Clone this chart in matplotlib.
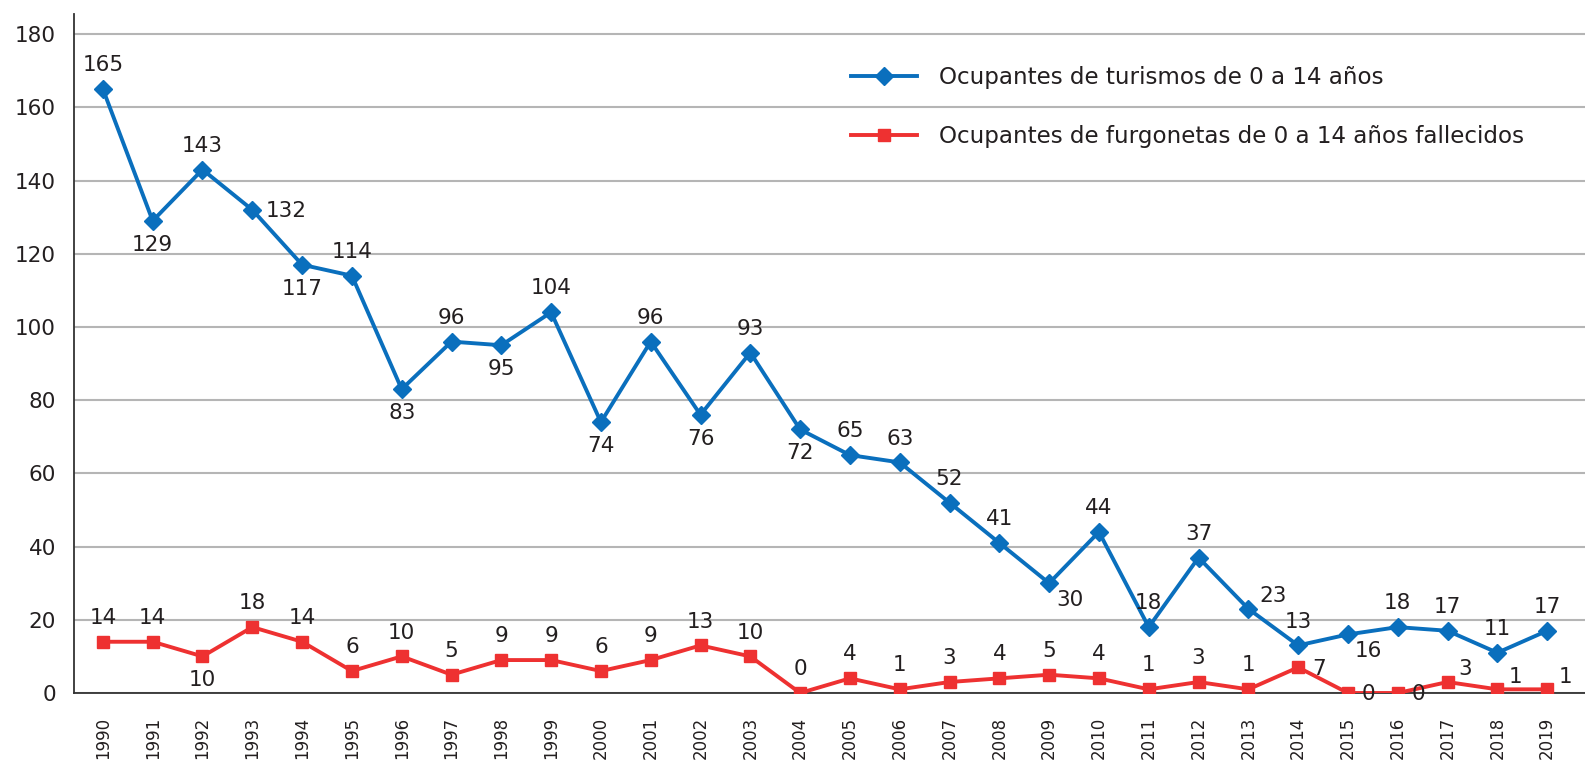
import numpy as np
import matplotlib
matplotlib.use("Agg")
import matplotlib.pyplot as plt

# data
years = list(range(1990, 2020))
turismos = [165, 129, 143, 132, 117, 114, 83, 96, 95, 104, 74, 96, 76, 93, 72,
            65, 63, 52, 41, 30, 44, 18, 37, 23, 13, 16, 18, 17, 11, 17]
furgonetas = [14, 14, 10, 18, 14, 6, 10, 5, 9, 9, 6, 9, 13, 10, 0,
              4, 1, 3, 4, 5, 4, 1, 3, 1, 7, 0, 0, 3, 1, 1]
yticks = [0, 20, 40, 60, 80, 100, 120, 140, 160, 180]
label_turismos = "Ocupantes de turismos de 0 a 14 años"
label_furgonetas = "Ocupantes de furgonetas de 0 a 14 años fallecidos"

# where each value label sits relative to its marker
pos_turismos = ["a", "b", "a", "r", "b", "a", "b", "a", "b", "a", "b", "a", "b", "a", "b",
                "a", "a", "a", "a", "dr", "a", "a", "a", "ur", "a", "dr", "a", "a", "a", "a"]
pos_furgonetas = ["a", "a", "b", "a", "a", "a", "a", "a", "a", "a", "a", "a", "a", "a", "a",
                  "a", "a", "a", "a", "a", "a", "a", "a", "a", "r", "r", "r", "ur", "ur", "ur"]

placements = {
    "a": ((0, 10), "center", "bottom"),
    "b": ((0, -10), "center", "top"),
    "r": ((10, -1), "left", "center"),
    "ur": ((8, 2), "left", "bottom"),
    "dr": ((5, -5), "left", "top"),
}

blue = "#0a6fbd"
red = "#ee3131"
txt = "#231f20"

fig = plt.figure(figsize=(15.85, 7.6), dpi=100)
ax = fig.add_axes([74 / 1585, 1 - 693 / 760, 1 - 74 / 1585, (693 - 14) / 760])

ax.plot(years, turismos, color=blue, lw=2.8, marker="D", ms=9, label=label_turismos, zorder=3)
ax.plot(years, furgonetas, color=red, lw=2.8, marker="s", ms=8, label=label_furgonetas, zorder=3)

for series, poss in [(turismos, pos_turismos), (furgonetas, pos_furgonetas)]:
    for x, v, p in zip(years, series, poss):
        off, ha, va = placements[p]
        ax.annotate(str(v), (x, v), xytext=off, textcoords="offset points",
                    ha=ha, va=va, fontsize=15.5, color=txt, zorder=4)

ax.set_xlim(1989.42, 2019.76)
ax.set_ylim(0, 185.5)
ax.set_yticks(yticks)
ax.set_xticks(years)
ax.set_xticklabels([str(y) for y in years], rotation=90, fontsize=12, color=txt)
ax.tick_params(axis="y", length=0, pad=13, labelsize=15.5, labelcolor=txt)
ax.tick_params(axis="x", length=0, pad=17)
for lab in ax.get_xticklabels():
    lab.set_va("top")

ax.grid(axis="y", color="#b5b5b5", lw=1.5)
ax.set_axisbelow(True)
for s in ["top", "right"]:
    ax.spines[s].set_visible(False)
ax.spines["left"].set_color("#333333")
ax.spines["bottom"].set_color("#333333")
ax.spines["left"].set_linewidth(1.3)
ax.spines["bottom"].set_linewidth(1.3)

leg = ax.legend(loc="upper left", bbox_to_anchor=(830 / 1585, 1 - 45 / 760),
                bbox_transform=fig.transFigure, frameon=False, fontsize=16.6,
                handlelength=2.86, handletextpad=0.96, labelspacing=1.57)
for t in leg.get_texts():
    t.set_color(txt)

fig.savefig("out.png", dpi=100)
